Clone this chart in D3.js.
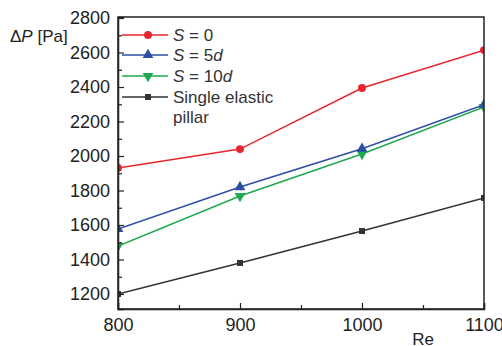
<!DOCTYPE html>
<html>
<head>
<meta charset="utf-8">
<script src="https://cdn.jsdelivr.net/npm/d3@7"></script>
<style>
  body { margin: 0; background: #fff; }
  svg { font-family: 'Liberation Sans', Arial, sans-serif; }
</style>
</head>
<body>
<div id="chart"></div>
<script>
const reynolds = [800, 900, 1000, 1100];
const s0 = [1930, 2040, 2394, 2614];
const s5d = [1577, 1820, 2042, 2298];
const s10d = [1478, 1768, 2012, 2284];
const single = [1200, 1380, 1565, 1757];
const yTicks = [1200, 1400, 1600, 1800, 2000, 2200, 2400, 2600, 2800];
const xTicks = [800, 900, 1000, 1100];

const series = [
  { label: 'S0', values: s0, color: '#e8262e', marker: 'circle' },
  { label: 'S5', values: s5d, color: '#2c4ea3', marker: 'triangle' },
  { label: 'S10', values: s10d, color: '#20a84f', marker: 'triangleDown' },
  { label: 'single', values: single, color: '#333333', marker: 'square' }
];

const width = 502, height = 346;
const margins = { top: 17, right: 18, bottom: 37, left: 118 };
const chartWidth = width - margins.left - margins.right;
const chartHeight = height - margins.top - margins.bottom;
const fontFamily = "'Liberation Sans', Arial, sans-serif";

const svg = d3.select('#chart').append('svg')
  .attr('width', width).attr('height', height);

const g = svg.append('g').attr('transform', `translate(${margins.left},${margins.top})`);

const xScale = d3.scaleLinear().domain([800, 1100]).range([0, chartWidth]);
const yScale = d3.scaleLinear().domain([1113, 2806]).range([chartHeight, 0]);

g.append('clipPath').attr('id', 'plotClip')
  .append('rect').attr('width', chartWidth).attr('height', chartHeight);

const markerSymbol = {
  circle: d3.symbol().type(d3.symbolCircle).size(50),
  triangle: d3.symbol().type(d3.symbolTriangle).size(50),
  square: d3.symbol().type(d3.symbolSquare).size(36)
};

// marker path; down-triangle is the up one turned over
function addMarker(parent, marker, color, tx, ty) {
  const p = parent.append('path').attr('fill', color);
  if (marker === 'triangleDown') {
    p.attr('d', markerSymbol.triangle()).attr('transform', `translate(${tx},${ty}) rotate(180)`);
  } else {
    p.attr('d', markerSymbol[marker]()).attr('transform', `translate(${tx},${ty})`);
  }
  return p;
}

const plot = g.append('g').attr('clip-path', 'url(#plotClip)');

const line = d3.line()
  .x((d, i) => xScale(reynolds[i]))
  .y(d => yScale(d));

series.slice().reverse().forEach(s => {
  plot.append('path')
    .attr('d', line(s.values))
    .attr('fill', 'none')
    .attr('stroke', s.color)
    .attr('stroke-width', 1.5);
  s.values.forEach((v, i) => addMarker(plot, s.marker, s.color, xScale(reynolds[i]), yScale(v)));
});

// frame
g.append('rect').attr('width', chartWidth).attr('height', chartHeight)
  .attr('fill', 'none').attr('stroke', '#222').attr('stroke-width', 1.5);

// y axis, ticks pointing inward
const yAxis = d3.axisLeft(yScale).tickValues(yTicks).tickSize(-6).tickPadding(8).tickFormat(d3.format('d'));
const yMinor = d3.axisLeft(yScale).tickValues(d3.range(1300, 2800, 200)).tickSize(-4).tickFormat('');
g.append('g').call(yAxis).call(a => a.select('.domain').attr('stroke', '#222').attr('stroke-width', 1.5))
  .selectAll('text').attr('font-size', 18).attr('fill', '#222').attr('font-family', fontFamily);
g.append('g').call(yMinor).call(a => a.select('.domain').remove());

const xAxis = d3.axisBottom(xScale).tickValues(xTicks).tickSize(-6).tickPadding(9).tickFormat(d3.format('d'));
const xMinor = d3.axisBottom(xScale).tickValues([850, 950, 1050]).tickSize(-4).tickFormat('');
g.append('g').attr('transform', `translate(0,${chartHeight})`).call(xAxis)
  .call(a => a.select('.domain').attr('stroke', '#222').attr('stroke-width', 1.5))
  .selectAll('text').attr('font-size', 18).attr('fill', '#222').attr('font-family', fontFamily);
g.append('g').attr('transform', `translate(0,${chartHeight})`).call(xMinor).call(a => a.select('.domain').remove());
g.selectAll('.tick line').attr('stroke', '#222').attr('stroke-width', 1.2);

// axis titles
const yTitle = svg.append('text').attr('x', 10).attr('y', 42).attr('font-size', 17).attr('fill', '#222');
yTitle.append('tspan').text('Δ');
yTitle.append('tspan').attr('font-style', 'italic').text('P');
yTitle.append('tspan').text(' [Pa]');

svg.append('text').attr('x', 423).attr('y', 345).attr('text-anchor', 'middle')
  .attr('font-size', 17).attr('fill', '#222').text('Re');

// legend
const legend = g.append('g').attr('transform', 'translate(4,18)');
const legendRows = [
  { s: series[0], y: 0, parts: [['S', true], [' = 0', false]] },
  { s: series[1], y: 20, parts: [['S', true], [' = 5', false], ['d', true]] },
  { s: series[2], y: 41, parts: [['S', true], [' = 10', false], ['d', true]] },
  { s: series[3], y: 62, parts: [['Single elastic', false]] }
];
legendRows.forEach(r => {
  const row = legend.append('g').attr('transform', `translate(0,${r.y})`);
  row.append('line').attr('x1', 0).attr('x2', 46).attr('stroke', r.s.color).attr('stroke-width', 1.5);
  addMarker(row, r.s.marker, r.s.color, 26, 0);
  const t = row.append('text').attr('x', 51).attr('y', 6).attr('font-size', 17).attr('fill', '#333');
  r.parts.forEach(([txt, it]) => t.append('tspan').attr('font-style', it ? 'italic' : 'normal').text(txt));
});
legend.append('text').attr('x', 51).attr('y', 88).attr('font-size', 17).attr('fill', '#333').text('pillar');
</script>
</body>
</html>
